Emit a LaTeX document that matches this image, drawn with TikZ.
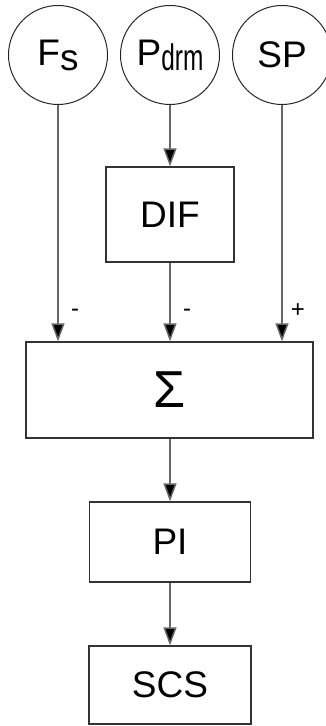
\documentclass[tikz,border=0pt]{standalone}
\usepackage{fontspec}
\setmainfont{Liberation Sans}
\usepackage{graphicx}
\usetikzlibrary{arrows.meta}
\begin{document}
\begin{tikzpicture}[x=1bp,y=-1bp,
  blk/.style={draw=black!80, line width=1.3bp, inner sep=0pt, fill=white,
              font=\fontsize{37bp}{40bp}\selectfont},
  src/.style={circle, draw=black!85, line width=1bp, inner sep=0pt, minimum size=99bp,
              font=\fontsize{37bp}{40bp}\selectfont},
  arr/.style={draw=black!60, line width=1.5bp, -{Triangle[width=13bp,length=18bp,fill=black]}},
  lbl/.style={inner sep=0pt, font=\fontsize{24bp}{26bp}\selectfont}]
\useasboundingbox (0,0) rectangle (325,726);
% sources
\node[src] (fs) at (58,55) {F\raisebox{-5bp}{s}};
\node[src] (pd) at (170,55) {P\raisebox{-5bp}{\scalebox{0.66}[1]{drm}}};
\node[src] (sp) at (282,55) {SP};
% blocks
\node[blk, minimum width=128bp, minimum height=95bp] (dif) at (170,214.5) {DIF};
\node[blk, minimum width=287bp, minimum height=96bp, font=\fontsize{52bp}{56bp}\selectfont] (sig) at (169.5,390) {Σ};
\node[blk, minimum width=161bp, minimum height=80bp] (pi) at (170,542) {PI};
\node[blk, minimum width=162bp, minimum height=78bp] (scs) at (170,685) {SCS};
% connectors
\draw[arr] (pd.south) -- (dif.north);
\draw[arr] (fs.south) -- (fs.south |- sig.north);
\draw[arr] (dif.south) -- (dif.south |- sig.north);
\draw[arr] (sp.south) -- (sp.south |- sig.north);
\draw[arr] (sig.south -| pi.north) -- (pi.north);
\draw[arr] (pi.south) -- (scs.north);
% signs
\node[lbl] (m1) at (75,313) {-};
\node[lbl] (m2) at (187,313) {-};
\node[lbl] (p1) at (298,311) {+};
\end{tikzpicture}
\end{document}
